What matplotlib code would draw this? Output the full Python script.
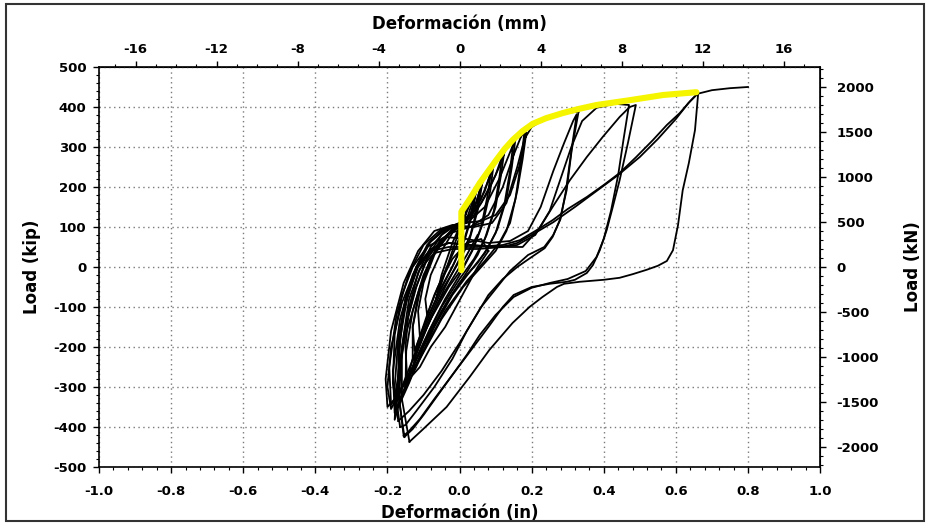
import matplotlib
matplotlib.use("Agg")
import matplotlib.pyplot as plt
from matplotlib.ticker import MultipleLocator
from matplotlib.patches import Rectangle

# ---------------- data (x in inches, load in kip) ----------------
env_x = [0.005, 0.005, 0.03, 0.056, 0.08, 0.10, 0.125, 0.148, 0.175, 0.203, 0.24, 0.287, 0.33, 0.38, 0.472, 0.565, 0.657]
env_y = [-8, 138, 172, 210, 240, 265, 295, 318, 340, 358, 372, 385, 395, 405, 417, 430, 437]

c0_x = [0.0, 0.01, -0.02, -0.05, -0.065, -0.05, -0.02, 0.01]
c0_y = [0, 120, 40, -40, -80, -20, 60, 120]

c1_x = [0.01, 0.005, 0.02, 0.01, -0.01, -0.04, -0.07, -0.09, -0.095, -0.08, -0.05, -0.02, 0.01, 0.03]
c1_y = [120, 130, 150, 100, 50, -10, -70, -120, -80, -20, 40, 85, 115, 160]

c2_x = [0.03, 0.045, 0.035, 0.015, -0.015, -0.05, -0.085, -0.11, -0.115, -0.10, -0.07, -0.035, 0.0, 0.03, 0.045]
c2_y = [160, 190, 130, 70, 10, -50, -120, -175, -110, -40, 30, 80, 105, 130, 185]

c2b_x = [0.045, 0.03, 0.01, -0.02, -0.06, -0.10, -0.125, -0.13, -0.115, -0.085, -0.05, -0.015, 0.02, 0.05]
c2b_y = [185, 120, 60, 0, -70, -150, -210, -150, -70, 10, 65, 95, 120, 200]

c3_x = [0.05, 0.06, 0.05, 0.03, 0.0, -0.04, -0.08, -0.115, -0.13, -0.13, -0.11, -0.08, -0.04, 0.0, 0.04, 0.065]
c3_y = [200, 215, 150, 80, 20, -50, -130, -200, -235, -150, -60, 20, 75, 105, 140, 220]

c3b_x = [0.065, 0.05, 0.025, -0.01, -0.05, -0.09, -0.13, -0.15, -0.148, -0.13, -0.10, -0.06, -0.02, 0.02, 0.045, 0.07]
c3b_y = [220, 140, 60, 0, -60, -140, -230, -300, -210, -110, -20, 55, 95, 115, 160, 230]

c4_x = [0.07, 0.09, 0.078, 0.06, 0.035, 0.0, -0.04, -0.085, -0.12, -0.145, -0.15, -0.14, -0.115, -0.08, -0.04, 0.0, 0.04, 0.07, 0.095]
c4_y = [230, 255, 180, 100, 40, -20, -80, -160, -230, -285, -200, -100, -15, 50, 90, 110, 140, 190, 260]

c4b_x = [0.095, 0.085, 0.065, 0.04, 0.01, -0.03, -0.08, -0.125, -0.16, -0.175, -0.17, -0.15, -0.12, -0.09, -0.05, -0.01, 0.03, 0.06, 0.085, 0.10]
c4b_y = [260, 190, 110, 50, 0, -50, -130, -220, -300, -340, -260, -150, -50, 25, 80, 105, 125, 170, 230, 270]

c5_x = [0.10, 0.12, 0.11, 0.095, 0.07, 0.04, 0.0, -0.05, -0.10, -0.14, -0.165, -0.17, -0.155, -0.12, -0.08, -0.03, 0.02, 0.06, 0.10, 0.125]
c5_y = [270, 292, 220, 140, 70, 20, -30, -100, -190, -270, -335, -230, -110, -5, 65, 100, 115, 160, 230, 295]

c5b_x = [0.125, 0.115, 0.10, 0.075, 0.05, 0.015, -0.03, -0.08, -0.13, -0.17, -0.19, -0.2, -0.19, -0.16, -0.12, -0.085, -0.045, 0.0, 0.04, 0.08, 0.11, 0.13]
c5b_y = [295, 230, 150, 80, 30, -20, -80, -160, -250, -320, -355, -300, -200, -90, 0, 60, 95, 110, 130, 190, 250, 300]

c6_x = [0.13, 0.15, 0.14, 0.125, 0.10, 0.07, 0.03, -0.02, -0.07, -0.12, -0.16, -0.18, -0.185, -0.165, -0.13, -0.09, -0.04, 0.02, 0.07, 0.11, 0.155]
c6_y = [300, 318, 240, 160, 85, 35, -10, -70, -150, -250, -320, -365, -260, -130, -20, 55, 95, 110, 150, 220, 320]

c6b_x = [0.155, 0.145, 0.13, 0.105, 0.08, 0.05, 0.0, -0.05, -0.10, -0.14, -0.17, -0.18, -0.175, -0.15, -0.11, -0.07, -0.025, 0.03, 0.08, 0.12, 0.15, 0.17]
c6b_y = [320, 250, 170, 95, 50, 10, -40, -110, -200, -290, -350, -382, -300, -170, -50, 35, 85, 100, 130, 200, 280, 325]

c7_x = [0.17, 0.18, 0.17, 0.155, 0.13, 0.10, 0.06, 0.01, -0.05, -0.11, -0.16, -0.19, -0.195, -0.175, -0.14, -0.10, -0.05, 0.01, 0.06, 0.10, 0.14, 0.165, 0.185]
c7_y = [325, 338, 260, 170, 90, 40, 0, -50, -130, -230, -300, -345, -250, -120, -15, 55, 95, 110, 115, 130, 180, 250, 335]

c7b_x = [0.185, 0.175, 0.16, 0.14, 0.11, 0.07, 0.02, -0.04, -0.10, -0.15, -0.18, -0.2, -0.205, -0.19, -0.155, -0.115, -0.07, -0.02, 0.04, 0.09, 0.13, 0.16, 0.18, 0.20, 0.24, 0.287, 0.33]
c7b_y = [335, 270, 190, 110, 60, 15, -35, -110, -210, -290, -330, -350, -280, -160, -40, 40, 90, 105, 100, 110, 160, 250, 320, 350, 372, 385, 388]

c8_x = [0.05, 0.02, -0.02, -0.06, -0.09, -0.12, -0.14, -0.16, -0.165, -0.15, -0.125, -0.09, -0.05, -0.01, 0.03, 0.06]
c8_y = [80, 30, -30, -90, -150, -220, -280, -320, -250, -150, -60, 20, 70, 95, 100, 110]

c9_x = [0.08, 0.05, 0.02, -0.01, -0.04, -0.08, -0.11, -0.13, -0.12, -0.09, -0.06, -0.02, 0.02, 0.06, 0.08]
c9_y = [40, 0, -50, -100, -150, -200, -250, -270, -200, -120, -50, 20, 60, 70, 40]

l1a_x = [0.33, 0.311, 0.297, 0.278, 0.258, 0.236, 0.20, 0.16, 0.12, 0.08, 0.04, 0.0, -0.05, -0.10, -0.14, -0.17]
l1a_y = [388, 292, 192, 117, 75, 47, 25, 0, -30, -70, -130, -190, -260, -320, -360, -385]

l1b_x = [-0.17, -0.185, -0.18, -0.16, -0.13, -0.09, -0.04, 0.02, 0.08, 0.14, 0.19, 0.225, 0.26, 0.29, 0.315, 0.325,
         0.31, 0.295, 0.28, 0.26, 0.235, 0.19, 0.14, 0.10, 0.06, 0.02, -0.02, -0.07, -0.12, -0.15, -0.165]
l1b_y = [-385, -290, -170, -70, 0, 50, 75, 70, 60, 65, 90, 150, 240, 310, 365, 382,
         290, 190, 120, 80, 50, 30, -10, -55, -100, -160, -230, -300, -360, -395, -400]

l2a_x = [-0.165, -0.18, -0.17, -0.15, -0.12, -0.08, -0.03, 0.03, 0.10, 0.16, 0.21, 0.25, 0.28, 0.31, 0.34, 0.38, 0.43, 0.47,
         0.455, 0.44, 0.42, 0.40, 0.38, 0.35, 0.30, 0.25, 0.20, 0.15, 0.10, 0.056, 0.02, -0.02, -0.06, -0.10, -0.13, -0.153]
l2a_y = [-400, -300, -180, -80, -5, 45, 60, 55, 50, 55, 80, 140, 220, 300, 365, 398, 408, 405,
         320, 230, 140, 70, 25, -10, -30, -40, -52, -75, -120, -170, -220, -270, -320, -370, -405, -425]

l2b_x = [-0.153, -0.17, -0.168, -0.15, -0.12, -0.08, -0.03, 0.03, 0.10, 0.175, 0.22, 0.258, 0.306, 0.353, 0.397, 0.444, 0.472, 0.489,
         0.467, 0.444, 0.425, 0.408, 0.389, 0.37, 0.353, 0.32, 0.297, 0.25, 0.20, 0.15, 0.12, 0.08, 0.03, -0.02, -0.07, -0.11, -0.14, -0.155]
l2b_y = [-425, -320, -190, -80, 0, 45, 60, 55, 50, 50, 95, 150, 217, 275, 325, 375, 400, 405,
         310, 217, 150, 92, 42, 5, -15, -32, -37, -42, -50, -70, -100, -150, -210, -270, -330, -380, -410, -422]

l3a_x = [-0.155, -0.17, -0.165, -0.145, -0.115, -0.08, -0.03, 0.05, 0.12, 0.167, 0.21, 0.258, 0.30, 0.353, 0.40, 0.444, 0.49, 0.536, 0.575, 0.611, 0.64, 0.662,
         0.653, 0.636, 0.619, 0.606, 0.592, 0.575, 0.55, 0.519, 0.48, 0.444, 0.40, 0.333, 0.29, 0.27, 0.23, 0.194, 0.147, 0.083, 0.028, -0.036, -0.103, -0.139]
l3a_y = [-422, -310, -180, -75, 0, 40, 50, 50, 55, 67, 90, 117, 145, 175, 205, 235, 275, 317, 355, 385, 415, 435,
         342, 260, 192, 105, 42, 15, 3, -7, -18, -27, -32, -37, -42, -50, -75, -100, -140, -207, -275, -350, -407, -437]

l3b_x = [-0.139, -0.16, -0.16, -0.14, -0.11, -0.07, -0.02, 0.05, 0.12, 0.16, 0.20, 0.26, 0.32, 0.38, 0.44, 0.50, 0.55, 0.60, 0.635, 0.66, 0.70, 0.75, 0.80]
l3b_y = [-437, -330, -200, -80, -5, 35, 45, 45, 50, 60, 80, 112, 150, 190, 230, 275, 320, 370, 410, 433, 442, 447, 450]

cycles = [(c0_x, c0_y), (c1_x, c1_y), (c2_x, c2_y), (c2b_x, c2b_y), (c3_x, c3_y), (c3b_x, c3b_y),
          (c4_x, c4_y), (c4b_x, c4b_y), (c5_x, c5_y), (c5b_x, c5b_y), (c6_x, c6_y), (c6b_x, c6b_y),
          (c7_x, c7_y), (c7b_x, c7b_y), (c8_x, c8_y), (c9_x, c9_y),
          (l1a_x, l1a_y), (l1b_x, l1b_y), (l2a_x, l2a_y), (l2b_x, l2b_y), (l3a_x, l3a_y), (l3b_x, l3b_y)]

in_ticks = [-1.0, -0.8, -0.6, -0.4, -0.2, 0.0, 0.2, 0.4, 0.6, 0.8, 1.0]
kip_ticks = [-500, -400, -300, -200, -100, 0, 100, 200, 300, 400, 500]
mm_ticks = [-16, -12, -8, -4, 0, 4, 8, 12, 16]
kn_ticks = [-2000, -1500, -1000, -500, 0, 500, 1000, 1500, 2000]

# ---------------- figure ----------------
plt.rcParams['font.family'] = ['DejaVu Sans']
plt.rcParams['font.weight'] = 'bold'
fig = plt.figure(figsize=(9.3, 5.25), dpi=100)
fig.patch.set_facecolor('white')
ax = fig.add_axes([0.1065, 0.1105, 0.7753, 0.7619])

for xs, ys in cycles:
    ax.plot(xs, ys, color='black', lw=1.3, solid_joinstyle='round')
ax.plot(env_x, env_y, color='#f5f500', lw=4.4, solid_capstyle='round', solid_joinstyle='round', zorder=5)

ax.set_xlim(-1.0, 1.0)
ax.set_ylim(-500, 500)
ax.set_xticks(in_ticks)
ax.set_xticklabels([f"{t:.1f}" for t in in_ticks])
ax.set_yticks(kip_ticks)
ax.set_yticklabels([str(t) for t in kip_ticks])
ax.xaxis.set_minor_locator(MultipleLocator(0.04))
ax.yaxis.set_minor_locator(MultipleLocator(20))
ax.grid(True, which='major', color='#7a7a7a', linestyle=(0, (1, 2.5)), lw=1.0)
ax.tick_params(which='major', direction='out', length=4, width=1.0, labelsize=9.5, pad=5)
ax.tick_params(axis='x', which='major', pad=9)
ax.tick_params(which='minor', direction='out', length=2.5, width=0.8)
for sp in ax.spines.values():
    sp.set_linewidth(1.2)

ax.set_xlabel('Deformación (in)', fontsize=12, fontweight='bold', labelpad=4)
ax.set_ylabel('Load (kip)', fontsize=12, fontweight='bold', labelpad=9)

top = ax.secondary_xaxis('top', functions=(lambda x: x * 17.8, lambda m: m / 17.8))
top.set_xticks(mm_ticks)
top.set_xticklabels([str(t) for t in mm_ticks])
top.xaxis.set_minor_locator(MultipleLocator(1))
top.tick_params(which='major', direction='out', length=4, width=1.0, labelsize=9.5, pad=4)
top.tick_params(which='minor', direction='out', length=2.5, width=0.8)
top.set_xlabel('Deformación (mm)', fontsize=12, fontweight='bold', labelpad=10)

right = ax.secondary_yaxis('right', functions=(lambda k: k * 4.448, lambda n: n / 4.448))
right.set_yticks(kn_ticks)
right.set_yticklabels([str(t) for t in kn_ticks])
right.yaxis.set_minor_locator(MultipleLocator(100))
right.tick_params(which='major', direction='out', length=4, width=1.0, labelsize=9.5, pad=8)
right.tick_params(which='minor', direction='out', length=2.5, width=0.8)
right.set_ylabel('Load (kN)', fontsize=12, fontweight='bold', labelpad=18)

fig.patches.append(Rectangle((0.006, 0.008), 0.988, 0.984, transform=fig.transFigure,
                             fill=False, edgecolor='#333333', lw=1.5))

fig.savefig('out.png', dpi=100, facecolor='white')
